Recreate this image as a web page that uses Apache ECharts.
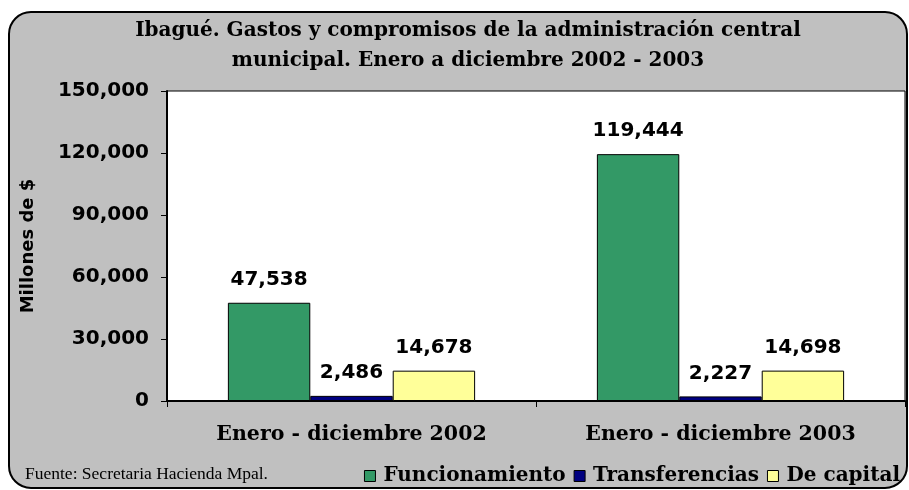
<!DOCTYPE html>
<html>
<head>
<meta charset="utf-8">
<script src="https://cdn.jsdelivr.net/npm/echarts@6/dist/echarts.min.js"></script>
<style>
html,body{margin:0;padding:0;background:#fff;}
#chart{width:909px;height:490px;}
</style>
</head>
<body>
<div id="chart"></div>
<script>
const categories = ['Enero - diciembre 2002', 'Enero - diciembre 2003'];
const funcionamiento = [47538, 119444];
const transferencias = [2486, 2227];
const deCapital = [14678, 14698];
const yTicks = [0, 30000, 60000, 90000, 120000, 150000];
const titleLines = ['Ibagué. Gastos y compromisos de la administración central', 'municipal. Enero a diciembre 2002 - 2003'];

const fmt = v => v.toLocaleString('en-US');
const labelStyle = {
  show: true, position: 'top', distance: 13,
  fontFamily: 'DejaVu Sans', fontWeight: 'bold', fontSize: 20, color: '#000',
  formatter: p => fmt(p.value)
};
const serif = 'DejaVu Serif';

const chart = echarts.init(document.getElementById('chart'), null, {renderer: 'canvas'});
chart.setOption({
  animation: false,
  backgroundColor: '#fff',
  graphic: [{
    type: 'rect', z: -10, silent: true,
    shape: {x: 9, y: 12, width: 898, height: 476, r: 22},
    style: {fill: '#C0C0C0', stroke: '#000', lineWidth: 2}
  }, {
    type: 'text', x: 468, y: 46, silent: true,
    style: {text: titleLines.join('\n'), font: 'bold 20px "DejaVu Serif"', fill: '#000',
            align: 'center', verticalAlign: 'middle', lineHeight: 30}
  }, {
    type: 'text', x: 25, y: 474, silent: true,
    style: {text: 'Fuente: Secretaria Hacienda Mpal.', font: '17.5px "Liberation Serif"', fill: '#000', verticalAlign: 'middle'}
  }],
  legend: {
    right: 4, top: 461, itemGap: 8, itemWidth: 11, itemHeight: 11,
    icon: 'rect',
    itemStyle: {borderColor: '#000', borderWidth: 1},
    textStyle: {fontFamily: serif, fontWeight: 'bold', fontSize: 20, color: '#000', padding: [0,0,0,3]},
    data: ['Funcionamiento', 'Transferencias', 'De capital']
  },
  grid: {left: 167, top: 91, right: 4, bottom: 89, show: true, backgroundColor: '#fff', borderColor: '#000', borderWidth: 1},
  xAxis: {
    type: 'category', data: categories,
    axisLine: {lineStyle: {color: '#000', width: 2}},
    axisTick: {show: true, length: 6, lineStyle: {color: '#000'}},
    axisLabel: {fontFamily: serif, fontWeight: 'bold', fontSize: 20.5, color: '#000', margin: 23}
  },
  yAxis: {
    type: 'value', min: yTicks[0], max: yTicks[yTicks.length-1], interval: yTicks[1]-yTicks[0],
    name: 'Millones de $', nameLocation: 'middle', nameGap: 130, nameRotate: 90,
    nameTextStyle: {fontFamily: 'DejaVu Sans', fontWeight: 'bold', fontSize: 18, color: '#000'},
    axisLine: {show: true, lineStyle: {color: '#000', width: 2}},
    axisTick: {show: true, length: 6, lineStyle: {color: '#000'}},
    splitLine: {show: false},
    axisLabel: {fontFamily: 'DejaVu Sans', fontWeight: 'bold', fontSize: 20, color: '#000', margin: 18, formatter: v => fmt(v)}
  },
  series: [
    {name: 'Funcionamiento', type: 'bar', data: funcionamiento, barGap: '0%', barCategoryGap: '33%',
     itemStyle: {color: '#339966', borderColor: '#000', borderWidth: 1}, label: labelStyle},
    {name: 'Transferencias', type: 'bar', data: transferencias,
     itemStyle: {color: '#000080', borderColor: '#000', borderWidth: 1}, label: labelStyle},
    {name: 'De capital', type: 'bar', data: deCapital,
     itemStyle: {color: '#FFFF99', borderColor: '#000', borderWidth: 1}, label: labelStyle}
  ]
});
</script>
</body>
</html>
